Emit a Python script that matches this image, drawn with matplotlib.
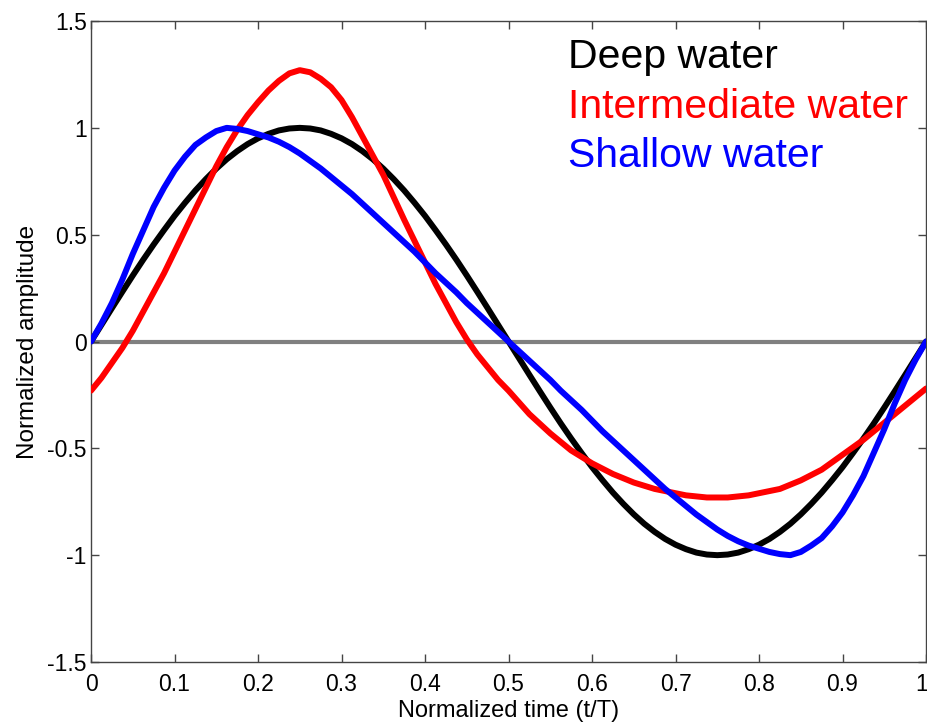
import matplotlib
matplotlib.use("Agg")
import matplotlib.pyplot as plt
import matplotlib.transforms as mtransforms

# Valores (t/T de 0 a 1, passo 0.0125)
tempo = [i * 0.0125 for i in range(81)]

deep_water = [0.000, 0.078, 0.156, 0.233, 0.309, 0.383, 0.454, 0.522, 0.588, 0.649,
              0.707, 0.760, 0.809, 0.853, 0.891, 0.924, 0.951, 0.972, 0.988, 0.997,
              1.000, 0.997, 0.988, 0.972, 0.951, 0.924, 0.891, 0.853, 0.809, 0.760,
              0.707, 0.649, 0.588, 0.522, 0.454, 0.383, 0.309, 0.233, 0.156, 0.078,
              0.000, -0.078, -0.156, -0.233, -0.309, -0.383, -0.454, -0.522, -0.588, -0.649,
              -0.707, -0.760, -0.809, -0.853, -0.891, -0.924, -0.951, -0.972, -0.988, -0.997,
              -1.000, -0.997, -0.988, -0.972, -0.951, -0.924, -0.891, -0.853, -0.809, -0.760,
              -0.707, -0.649, -0.588, -0.522, -0.454, -0.383, -0.309, -0.233, -0.156, -0.078,
              0.000]

intermediate_water = [-0.23, -0.17, -0.10, -0.03, 0.05, 0.14, 0.23, 0.32, 0.42, 0.52,
                      0.62, 0.72, 0.82, 0.91, 0.99, 1.06, 1.12, 1.175, 1.22, 1.255,
                      1.27, 1.26, 1.23, 1.19, 1.13, 1.05, 0.96, 0.87, 0.78, 0.675,
                      0.57, 0.47, 0.37, 0.27, 0.18, 0.09, 0.01, -0.06, -0.12, -0.18,
                      -0.23, -0.285, -0.34, -0.385, -0.43, -0.47, -0.51, -0.54, -0.57, -0.595,
                      -0.62, -0.64, -0.66, -0.675, -0.69, -0.70, -0.71, -0.72, -0.725, -0.73,
                      -0.73, -0.73, -0.725, -0.72, -0.71, -0.70, -0.69, -0.67, -0.65, -0.625,
                      -0.60, -0.565, -0.53, -0.495, -0.46, -0.42, -0.38, -0.34, -0.30, -0.26,
                      -0.22]

shallow_water = [0.00, 0.085, 0.18, 0.29, 0.41, 0.52, 0.63, 0.72, 0.80, 0.865,
                 0.92, 0.955, 0.985, 1.00, 0.995, 0.985, 0.97, 0.955, 0.935, 0.91,
                 0.88, 0.845, 0.81, 0.77, 0.73, 0.69, 0.645, 0.60, 0.555, 0.51,
                 0.465, 0.42, 0.37, 0.32, 0.275, 0.23, 0.18, 0.135, 0.09, 0.045,
                 0.00, -0.045, -0.09, -0.135, -0.18, -0.23, -0.275, -0.32, -0.37, -0.42,
                 -0.465, -0.51, -0.555, -0.60, -0.645, -0.69, -0.73, -0.77, -0.81, -0.845,
                 -0.88, -0.91, -0.935, -0.955, -0.97, -0.985, -0.995, -1.00, -0.985, -0.955,
                 -0.92, -0.865, -0.80, -0.72, -0.63, -0.52, -0.41, -0.29, -0.18, -0.085,
                 0.00]

legenda = ["Deep water", "Intermediate water", "Shallow water"]
cores = ["black", "#ff0000", "#0000ff"]

xticks = [0, 0.1, 0.2, 0.3, 0.4, 0.5, 0.6, 0.7, 0.8, 0.9, 1]
xtick_labels = ["0", "0.1", "0.2", "0.3", "0.4", "0.5", "0.6", "0.7", "0.8", "0.9", "1"]
yticks = [-1.5, -1, -0.5, 0, 0.5, 1, 1.5]
ytick_labels = ["-1.5", "-1", "-0.5", "0", "0.5", "1", "1.5"]

plt.rcParams['font.family'] = ['Liberation Sans', 'DejaVu Sans']

fig = plt.figure(figsize=(9.28, 7.25), dpi=100)
ax = fig.add_axes([0.0981, 0.0869, 0.8998, 0.8841])

ax.axhline(0, color='#808080', linewidth=3, zorder=1)
series = [deep_water, intermediate_water, shallow_water]
for i, valores in enumerate(series):
    ax.plot(tempo, valores, color=cores[i], linewidth=4.3, zorder=2 + i,
            solid_joinstyle='round', solid_capstyle='round')

# Textos de legenda dentro do gráfico
for nome, cor, y in zip(legenda, cores, [1.28, 1.046, 0.817]):
    ax.text(0.571, y, nome, color=cor, fontsize=29.5, ha='left', va='baseline')

ax.set_xlim(0, 1)
ax.set_ylim(-1.5, 1.5)
ax.set_xticks(xticks)
ax.set_xticklabels(xtick_labels)
ax.set_yticks(yticks)
ax.set_yticklabels(ytick_labels)
ax.tick_params(axis='both', direction='in', length=6, width=1, color='#444444',
               labelsize=16.5, top=True, right=True)
ax.tick_params(axis='x', pad=8)
ax.tick_params(axis='y', pad=3)
for s in ax.spines.values():
    s.set_color('#444444')
    s.set_linewidth(1)

# o "1" final fica colado na borda direita
ultimo = ax.get_xticklabels()[-1]
ultimo.set_transform(ultimo.get_transform() +
                     mtransforms.ScaledTranslation(-3 / 72, 0, fig.dpi_scale_trans))

ax.set_xlabel('Normalized time (t/T)', fontsize=17, labelpad=3)
ax.set_ylabel('Normalized amplitude', fontsize=17.5, labelpad=6)

fig.savefig('out.png', dpi=100)
